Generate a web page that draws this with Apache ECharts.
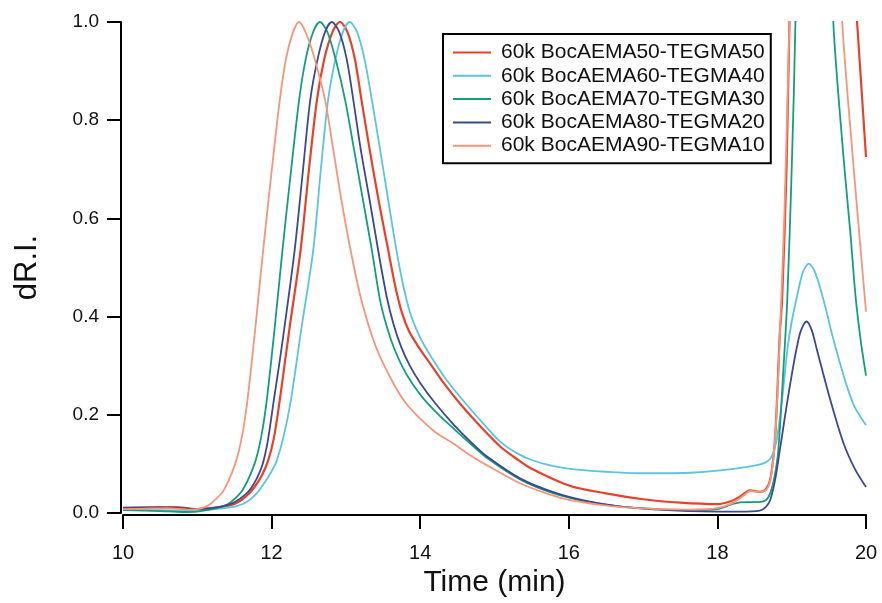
<!DOCTYPE html>
<html>
<head>
<meta charset="utf-8">
<script src="https://cdn.jsdelivr.net/npm/echarts@6/dist/echarts.min.js"></script>
<style>
  html, body { margin: 0; padding: 0; background: #fff; }
  #chart { width: 882px; height: 603px; }
</style>
</head>
<body>
<div id="chart"></div>
<script>
// GPC traces (dR.I. vs elution time), normalised to the polymer peak.
const seriesNames = [
  '60k BocAEMA50-TEGMA50',
  '60k BocAEMA60-TEGMA40',
  '60k BocAEMA70-TEGMA30',
  '60k BocAEMA80-TEGMA20',
  '60k BocAEMA90-TEGMA10'
];
const seriesColors = ['#E8412B', '#5BC4DE', '#139E7D', '#3B4A8C', '#F5957B'];

const xTicks = [10, 12, 14, 16, 18, 20];
const yTicks = [0.0, 0.2, 0.4, 0.6, 0.8, 1.0];

// BocAEMA50-TEGMA50
const t50 = [10.0, 10.5, 10.7, 11.0, 11.3, 11.45, 11.57, 11.68, 11.78, 11.87, 11.95, 12.03, 12.11, 12.24, 12.39, 12.50, 12.61, 12.71, 12.82, 12.92,
  13.02, 13.12, 13.21, 13.32, 13.44, 13.57, 13.66, 13.75, 13.85, 13.97, 14.13, 14.3, 14.54, 14.8, 15.08, 15.3, 15.5, 16.02, 16.5, 17.0, 17.5, 18.0,
  18.2, 18.31, 18.44, 18.57, 18.66, 18.72, 18.78, 18.84, 18.87, 18.93, 18.97, 19.3, 19.7, 19.88, 20.0];
const v50 = [0.010, 0.012, 0.012, 0.008, 0.012, 0.016, 0.024, 0.037, 0.055, 0.077, 0.105, 0.152, 0.23, 0.375, 0.535, 0.695, 0.841, 0.925, 0.98, 1.0,
  0.98, 0.925, 0.841, 0.74, 0.637, 0.535, 0.465, 0.41, 0.37, 0.34, 0.305, 0.268, 0.222, 0.178, 0.135, 0.11, 0.09, 0.055, 0.040, 0.028, 0.021, 0.018,
  0.025, 0.034, 0.046, 0.043, 0.050, 0.075, 0.162, 0.365, 0.433, 0.70, 1.0, 3.0, 1.4, 1.0, 0.725];

// BocAEMA60-TEGMA40
const t60 = [10.0, 10.5, 11.0, 11.3, 11.5, 11.66, 11.8, 11.92, 12.0, 12.07, 12.16, 12.26, 12.40, 12.56, 12.66, 12.76, 12.86, 12.96, 13.05,
  13.15, 13.25, 13.35, 13.46, 13.57, 13.68, 13.77, 13.86, 13.96, 14.06, 14.18, 14.35, 14.6, 14.85, 15.08, 15.3, 15.5, 15.75, 16.02, 16.5, 16.92,
  17.3, 17.63, 18.04, 18.4, 18.6, 18.68, 18.74, 18.80, 18.87, 18.94, 19.0, 19.07, 19.15, 19.23, 19.31, 19.43, 19.55, 19.65, 19.75, 19.85, 20.0];
const v60 = [0.006, 0.006, 0.005, 0.009, 0.013, 0.022, 0.040, 0.065, 0.085, 0.107, 0.155, 0.23, 0.375, 0.535, 0.695, 0.841, 0.925, 0.98, 1.0,
  0.98, 0.925, 0.841, 0.74, 0.637, 0.535, 0.465, 0.41, 0.37, 0.34, 0.31, 0.272, 0.225, 0.182, 0.145, 0.122, 0.108, 0.097, 0.090, 0.084, 0.081,
  0.081, 0.082, 0.087, 0.094, 0.100, 0.106, 0.118, 0.150, 0.23, 0.33, 0.39, 0.44, 0.49, 0.508, 0.492, 0.433, 0.36, 0.305, 0.255, 0.215, 0.179];

// BocAEMA70-TEGMA30
const t70 = [10.0, 10.5, 10.8, 11.0, 11.2, 11.35, 11.45, 11.61, 11.77, 11.86, 11.935, 12.04, 12.146, 12.26, 12.37, 12.46, 12.56, 12.65,
  12.75, 12.86, 12.99, 13.11, 13.23, 13.35, 13.46, 13.55, 13.65, 13.77, 13.9, 14.05, 14.25, 14.45, 14.7, 14.9, 15.35, 15.8, 16.25, 16.7, 17.2,
  17.6, 18.0, 18.22, 18.4, 18.53, 18.65, 18.71, 18.77, 18.82, 18.89, 18.94, 19.0, 19.05, 19.2, 19.45, 19.56, 19.7, 19.79, 19.86, 19.93, 20.0];
const v70 = [0.006, 0.004, 0.002, 0.003, 0.008, 0.014, 0.022, 0.047, 0.10, 0.155, 0.23, 0.375, 0.535, 0.695, 0.841, 0.925, 0.98, 1.0,
  0.98, 0.925, 0.841, 0.74, 0.637, 0.535, 0.433, 0.38, 0.335, 0.295, 0.262, 0.232, 0.20, 0.172, 0.138, 0.112, 0.068, 0.040, 0.023, 0.013, 0.008,
  0.006, 0.008, 0.019, 0.022, 0.022, 0.026, 0.040, 0.075, 0.128, 0.297, 0.433, 0.70, 1.0, 2.5, 1.5, 1.0, 0.72, 0.57, 0.44, 0.35, 0.28];

// BocAEMA80-TEGMA20
const t80 = [10.0, 10.5, 10.8, 11.0, 11.2, 11.35, 11.5, 11.65, 11.72, 11.80, 11.88, 11.95, 12.03, 12.1, 12.17, 12.31, 12.42, 12.52, 12.62, 12.72, 12.81,
  12.91, 13.01, 13.10, 13.2, 13.32, 13.44, 13.55, 13.64, 13.74, 13.86, 14.0, 14.2, 14.45, 14.7, 14.9, 15.35, 15.8, 16.25, 16.7, 17.2, 17.6, 18.0, 18.3,
  18.57, 18.65, 18.71, 18.78, 18.84, 18.98, 19.11, 19.20, 19.27, 19.34, 19.52, 19.70, 19.85, 20.0];
const v80 = [0.011, 0.011, 0.010, 0.008, 0.010, 0.014, 0.022, 0.038, 0.05, 0.07, 0.10, 0.148, 0.23, 0.30, 0.375, 0.535, 0.695, 0.841, 0.925, 0.98, 1.0,
  0.98, 0.925, 0.841, 0.74, 0.637, 0.53, 0.44, 0.385, 0.34, 0.30, 0.265, 0.224, 0.18, 0.142, 0.115, 0.070, 0.042, 0.024, 0.013, 0.007, 0.004, 0.003, 0.003,
  0.005, 0.012, 0.026, 0.07, 0.128, 0.263, 0.365, 0.39, 0.372, 0.332, 0.23, 0.141, 0.09, 0.053];

// BocAEMA90-TEGMA10
const t90 = [10.0, 10.3, 10.6, 10.9, 11.0, 11.1, 11.19, 11.35, 11.51, 11.6, 11.675, 11.78, 11.886, 12.0, 12.11, 12.2, 12.29, 12.37,
  12.47, 12.57, 12.72, 12.83, 12.94, 13.07, 13.21, 13.4, 13.6, 13.8, 14.0, 14.2, 14.45, 14.7, 14.9, 15.35, 15.7, 16.02, 16.4, 16.7,
  17.2, 17.6, 18.0, 18.2, 18.35, 18.45, 18.57, 18.66, 18.72, 18.78, 18.84, 18.9, 18.97, 19.3, 19.5, 19.68, 19.83, 19.92, 20.0];
const v90 = [0.008, 0.009, 0.010, 0.007, 0.008, 0.012, 0.020, 0.045, 0.10, 0.155, 0.23, 0.375, 0.535, 0.695, 0.841, 0.93, 0.98, 1.0,
  0.975, 0.93, 0.841, 0.74, 0.637, 0.53, 0.433, 0.34, 0.275, 0.225, 0.192, 0.165, 0.141, 0.115, 0.097, 0.060, 0.040, 0.026, 0.017, 0.012,
  0.008, 0.007, 0.010, 0.020, 0.035, 0.045, 0.043, 0.048, 0.072, 0.16, 0.36, 0.60, 1.0, 3.0, 1.6, 1.0, 0.71, 0.55, 0.41];

const times = [t50, t60, t70, t80, t90];
const values = [v50, v60, v70, v80, v90];

const zip = (ts, vs) => ts.map((t, i) => [t, vs[i]]);

const chart = echarts.init(document.getElementById('chart'), null, { renderer: 'canvas' });

const font = 'Liberation Sans, Arial, Helvetica, sans-serif';

chart.setOption({
  backgroundColor: '#ffffff',
  animation: false,
  grid: { left: 123, right: 16, top: 22, bottom: 90, containLabel: false },
  legend: {
    orient: 'vertical',
    left: 443,
    top: 34,
    padding: [8, 6, 7, 10],
    itemGap: 2.3,
    itemWidth: 38,
    itemHeight: 2,
    icon: 'rect',
    borderColor: '#000',
    borderWidth: 2,
    backgroundColor: '#fff',
    textStyle: { fontFamily: font, fontSize: 21, color: '#111', lineHeight: 21, padding: [0, 0, 0, 5] },
    data: seriesNames
  },
  xAxis: {
    type: 'value',
    min: xTicks[0],
    max: xTicks[xTicks.length - 1],
    interval: 2,
    offset: 2,
    name: 'Time (min)',
    nameLocation: 'middle',
    nameGap: 49,
    nameTextStyle: { fontFamily: font, fontSize: 30, color: '#111' },
    axisLine: { show: true, onZero: false, lineStyle: { color: '#000', width: 2 } },
    axisTick: { show: true, inside: false, length: 14, lineStyle: { color: '#000', width: 2 } },
    axisLabel: { fontFamily: font, fontSize: 20, color: '#111', margin: 28 },
    splitLine: { show: false }
  },
  yAxis: {
    type: 'value',
    min: yTicks[0],
    max: yTicks[yTicks.length - 1],
    interval: 0.2,
    offset: 2,
    name: 'dR.I.',
    nameLocation: 'middle',
    nameGap: 78,
    nameRotate: 90,
    nameTextStyle: { fontFamily: font, fontSize: 31, color: '#111' },
    axisLine: { show: true, onZero: false, lineStyle: { color: '#000', width: 2 } },
    axisTick: { show: true, inside: false, length: 14, lineStyle: { color: '#000', width: 2 } },
    axisLabel: { fontFamily: font, fontSize: 19, color: '#111', margin: 22, formatter: v => v.toFixed(1) },
    splitLine: { show: false }
  },
  series: seriesNames.map((name, i) => ({
    name: name,
    type: 'line',
    data: zip(times[i], values[i]),
    showSymbol: false,
    symbol: 'none',
    smooth: 0.3,
    clip: true,
    color: seriesColors[i],
    lineStyle: { color: seriesColors[i], width: i === 0 ? 2.2 : 1.8 },
    z: 2 + i
  }))
});
</script>
</body>
</html>
